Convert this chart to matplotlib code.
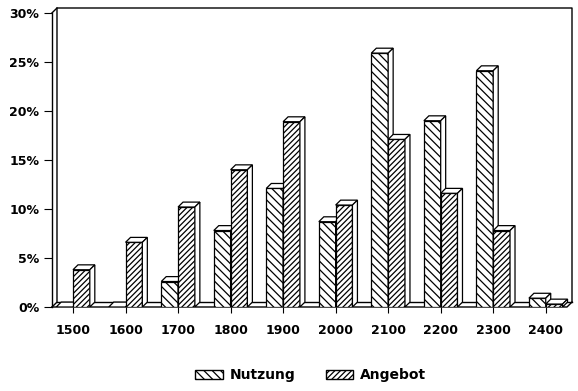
import numpy as np
import matplotlib
matplotlib.use("Agg")
import matplotlib.pyplot as plt
from matplotlib.patches import Polygon, Patch
from matplotlib.ticker import FuncFormatter

# Daten (Anteil in %)
jahre = ["1500", "1600", "1700", "1800", "1900", "2000", "2100", "2200", "2300", "2400"]
nutzung = [0, 0, 2.6, 7.8, 12.1, 8.7, 25.9, 19.0, 24.1, 0.9]
angebot = [3.8, 6.6, 10.2, 14.0, 18.9, 10.4, 17.1, 11.6, 7.8, 0.3]

plt.rcParams['font.family'] = ['DejaVu Sans']
plt.rcParams['font.weight'] = 'bold'
plt.rcParams['hatch.linewidth'] = 0.9

fig = plt.figure(figsize=(5.78, 3.91), dpi=100)
ax = fig.add_axes([52/578, 84/391, 520/578, 299/391])

x = np.arange(len(jahre))
w = 0.32      # Balkenbreite
dx = 0.095    # Tiefe (x)
dy = 0.5      # Tiefe (y)
xl, xr = -0.4, 9.5
ymax = 30

h_n = '\\\\\\\\'
h_a = '//////'

def balken(x0, h, hatch, z):
    ax.bar(x0, h, width=w, align='edge', facecolor='white', edgecolor='black',
           hatch=hatch, linewidth=0.9, zorder=z)
    x1 = x0 + w
    top = Polygon([(x0, h), (x1, h), (x1 + dx, h + dy), (x0 + dx, h + dy)],
                  closed=True, facecolor='white', edgecolor='black', lw=0.9, zorder=z)
    side = Polygon([(x1, 0), (x1, h), (x1 + dx, h + dy), (x1 + dx, dy)],
                   closed=True, facecolor='white', edgecolor='black', lw=0.9, zorder=z)
    ax.add_patch(top)
    ax.add_patch(side)

for i in range(len(jahre)):
    balken(x[i] - w, nutzung[i], h_n, 3 + 2*i)
    balken(x[i], angebot[i], h_a, 4 + 2*i)

# Rahmen / Boden
lk = dict(color='black', lw=1.0, clip_on=False, zorder=1)
ax.plot([xl, xl], [0, ymax], **lk)
ax.plot([xl, xl + dx, xr, xr], [ymax, ymax + dy, ymax + dy, dy], **lk)
ax.plot([xl, xl + dx, xl + dx], [0, dy, ymax + dy], **lk)
ax.plot([xl, xr - dx, xr], [0, 0, dy], **lk)
ax.plot([xl + dx, xr], [dy, dy], **lk)

ax.set_xlim(xl, xr)
ax.set_ylim(0, ymax + dy)
for s in ax.spines.values():
    s.set_visible(False)

ax.set_xticks(x)
ax.set_xticklabels(jahre)
ax.set_yticks(range(0, 31, 5))
ax.yaxis.set_major_formatter(FuncFormatter(lambda v, p: '%d%%' % v))
ax.tick_params(axis='x', length=4, width=0.8, pad=8, labelsize=9)
ax.tick_params(axis='y', length=6, width=0.8, pad=3, labelsize=9)

handles = [Patch(facecolor='white', edgecolor='black', hatch=h_n, label='Nutzung'),
           Patch(facecolor='white', edgecolor='black', hatch=h_a, label='Angebot')]
fig.legend(handles=handles, loc='center', bbox_to_anchor=(0.538, 0.04), ncol=2,
           frameon=False, fontsize=10, handlelength=2.0, handleheight=0.72,
           handletextpad=0.5, columnspacing=2.15)

fig.savefig('out.png', dpi=100)
